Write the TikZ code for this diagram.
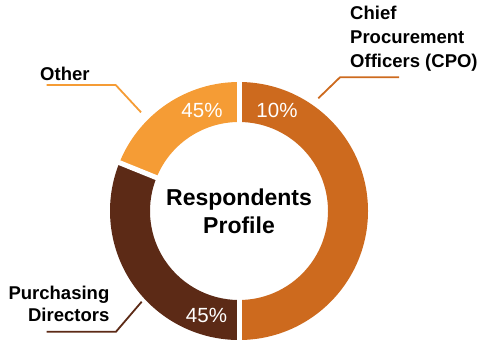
\documentclass[tikz,border=0pt]{standalone}
\usepackage{fontspec}
\setmainfont{Liberation Sans}
\definecolor{cpoC}{RGB}{205,106,30}
\definecolor{othC}{RGB}{245,156,53}
\definecolor{pdC}{RGB}{92,42,22}
\tikzset{
  pct/.style={text=white, inner sep=0pt, font=\fontsize{20.5}{24}\selectfont},
  lbl/.style={text=black, inner sep=0pt, font=\fontsize{18.5}{22.5}\selectfont\bfseries},
  leader/.style={line width=1.8pt},
  gapline/.style={white, line width=5pt}
}
\begin{document}
\begin{tikzpicture}[x=1pt,y=1pt]
\useasboundingbox (0,0) rectangle (486,341);
\begin{scope}[shift={(239,130)}]
  \fill[cpoC] (-90:129) arc[start angle=-90,end angle=90,radius=129] -- (90:89) arc[start angle=90,end angle=-90,radius=89] -- cycle;
  \fill[othC] (90:129) arc[start angle=90,end angle=158,radius=129] -- (158:89) arc[start angle=158,end angle=90,radius=89] -- cycle;
  \fill[pdC] (158:129) arc[start angle=158,end angle=270,radius=129] -- (270:89) arc[start angle=270,end angle=158,radius=89] -- cycle;
  \draw[gapline] (90:85) -- (90:133);
  \draw[gapline] (158:85) -- (158:133);
  \draw[gapline] (270:85) -- (270:133);
\end{scope}
\node[pct] (p1) at (277,230.5) {10\%};
\node[pct] (p2) at (202,230.5) {45\%};
\node[pct] (p3) at (206.5,26) {45\%};
\node[inner sep=0pt, align=center, font=\fontsize{23}{28}\selectfont\bfseries] (title) at (239,130) {Respondents\\Profile};
\node[lbl, anchor=base west] (other) at (40,261) {Other};
\node[lbl, anchor=north west, align=left, font=\fontsize{18.5}{24}\selectfont\bfseries] (cpo) at (350,335.5) {Chief\\Procurement\\Officers (CPO)};
\node[lbl, anchor=north east, align=right] (pd) at (109.5,55.5) {Purchasing\\Directors};
\coordinate (oa) at (46.7,256);
\coordinate (ob) at (115.7,256);
\coordinate (oc) at (141,228.7);
\coordinate (ca) at (399,263.7);
\coordinate (cb) at (340,263.7);
\coordinate (cc) at (318.3,242.7);
\coordinate (da) at (46.7,9.3);
\coordinate (db) at (116,9.3);
\coordinate (dc) at (141.7,39.3);
\draw[leader, othC] (oa) -- (ob) -- (oc);
\draw[leader, cpoC] (ca) -- (cb) -- (cc);
\draw[leader, pdC] (da) -- (db) -- (dc);
\end{tikzpicture}
\end{document}
